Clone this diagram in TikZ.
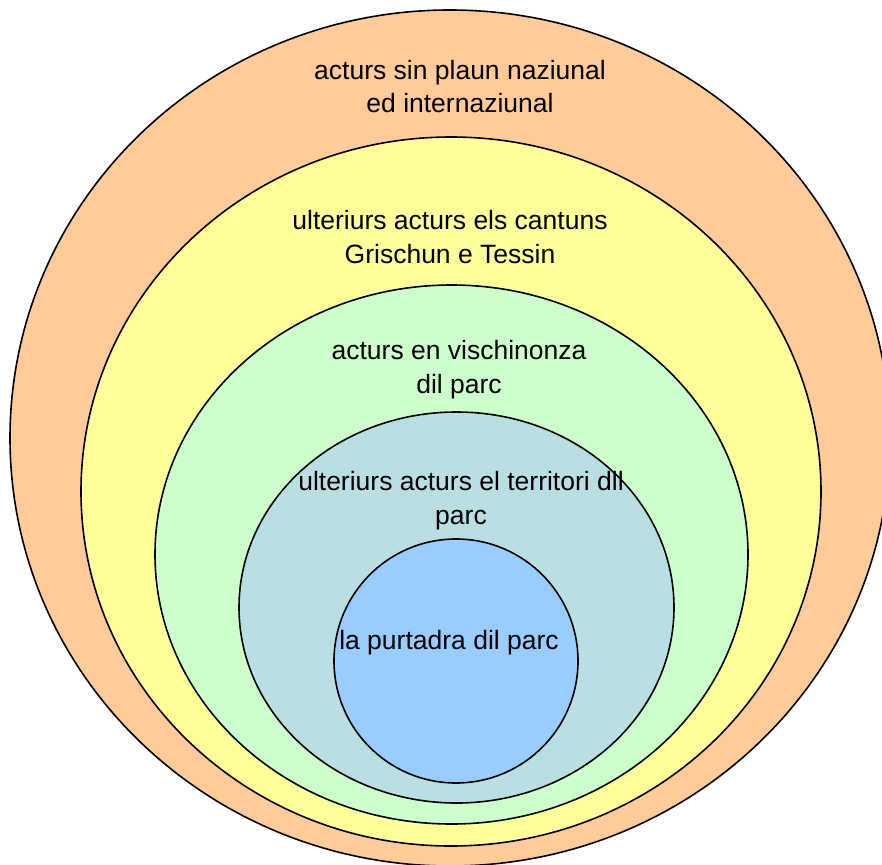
\documentclass[tikz,border=0pt]{standalone}
\usepackage{fontspec}
\setmainfont{Liberation Sans}
\usetikzlibrary{shapes.geometric}
\definecolor{corange}{HTML}{FFCC99}
\definecolor{cyellow}{HTML}{FFFF99}
\definecolor{cgreen}{HTML}{CCFFCC}
\definecolor{cgrey}{HTML}{B9DFE3}
\definecolor{cblue}{HTML}{99CCFF}
\tikzset{
  ring/.style={ellipse, draw=black, line width=1.6pt, inner sep=0pt, outer sep=0pt},
  lbl/.style={align=center, font=\fontsize{26.5}{33.5}\selectfont, inner sep=0pt}
}
\begin{document}
\begin{tikzpicture}[x=1pt,y=-1pt]
\useasboundingbox (0,0) rectangle (882,864);
\clip (0,0) rectangle (882,864);
\node[ring, fill=corange, minimum width=880, minimum height=856] (outer) at (450,438) {};
\node[ring, fill=cyellow, minimum width=740, minimum height=709] (yellow) at (451,491.5) {};
\node[ring, fill=cgreen, minimum width=593, minimum height=539] (green) at (451.5,554.5) {};
\node[ring, fill=cgrey, minimum width=435, minimum height=391] (grey) at (456.5,607.5) {};
\node[ring, fill=cblue, minimum width=244, minimum height=244] (blue) at (456,661) {};
\node[lbl] (t1) at (460,86.5) {acturs sin plaun naziunal\\ed internaziunal};
\node[lbl] (t2) at (450,237) {ulteriurs acturs els cantuns\\Grischun e Tessin};
\node[lbl] (t3) at (459,369.5) {acturs en vischinonza\\dil parc};
\node[lbl] (t4) at (461,500.5) {ulteriurs acturs el territori dll\\parc};
\node[lbl] (t5) at (449,643) {la purtadra dil parc};
\end{tikzpicture}
\end{document}
